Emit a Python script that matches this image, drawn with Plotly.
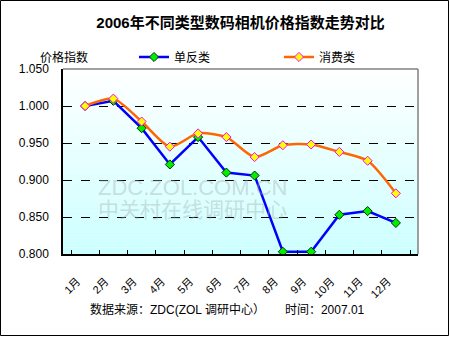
import plotly.graph_objects as go

# Monthly price index, 2006
months = ["1月", "2月", "3月", "4月", "5月", "6月", "7月", "8月", "9月", "10月", "11月", "12月"]
dslr_index = [1.000, 1.007, 0.970, 0.921, 0.958, 0.910, 0.906, 0.803, 0.803, 0.853, 0.858, 0.842]
compact_index = [1.000, 1.010, 0.979, 0.945, 0.963, 0.958, 0.931, 0.947, 0.948, 0.938, 0.926, 0.882]
y_ticks = [0.800, 0.850, 0.900, 0.950, 1.000, 1.050]

W, H = 450, 337
L, R, T, B = 63, 418, 69, 254          # plot-area edges in pixels
PW, PH = R - L, B - T

def px(x):
    return (x - L) / PW

def py(y):
    return (B - y) / PH

CJK = "Arial, 'Liberation Sans', 'Noto Sans CJK SC', sans-serif"

fig = go.Figure()
fig.add_trace(go.Scatter(
    x=months, y=dslr_index, name="单反类", mode="lines+markers",
    line=dict(color="#0000FF", width=2.5),
    marker=dict(symbol="diamond", size=7, color="#00EE00",
                line=dict(color="#003300", width=1)),
))
fig.add_trace(go.Scatter(
    x=months, y=compact_index, name="消费类", mode="lines+markers",
    line=dict(color="#FF6600", width=2.5, shape="spline", smoothing=0.7),
    marker=dict(symbol="diamond", size=7, color="#FFFF00",
                line=dict(color="#FF00FF", width=1)),
))

shapes = []
# vertical white -> light cyan gradient behind the plot area
n = 60
top_c = (255, 255, 255)
bot_c = (204, 255, 255)
for i in range(n):
    t = (i + 0.5) / n
    c = tuple(round(top_c[k] + (bot_c[k] - top_c[k]) * t) for k in range(3))
    shapes.append(dict(type="rect", xref="paper", yref="paper",
                       x0=0, x1=1, y0=1 - (i + 1) / n, y1=1 - i / n + 0.002,
                       fillcolor="rgb(%d,%d,%d)" % c, line=dict(width=0),
                       layer="below"))
# gray top and right frame of the plot area
shapes.append(dict(type="line", xref="paper", yref="paper", x0=0, x1=1, y0=1, y1=1,
                   line=dict(color="#808080", width=1.5), layer="above"))
shapes.append(dict(type="line", xref="paper", yref="paper", x0=1, x1=1, y0=0, y1=1,
                   line=dict(color="#808080", width=1.5), layer="above"))
# outer chart border
shapes.append(dict(type="rect", xref="paper", yref="paper",
                   x0=px(0.5), x1=px(448.5), y0=py(335.5), y1=py(0.5),
                   line=dict(color="black", width=1), fillcolor="rgba(0,0,0,0)",
                   layer="above"))

annotations = [
    dict(text="价格指数", x=px(38), y=py(48), xref="paper", yref="paper",
         showarrow=False, font=dict(size=12, color="black", family=CJK)),
    dict(text="数据来源：ZDC(ZOL 调研中心）      时间：2007.01",
         x=px(227), y=py(319), xref="paper", yref="paper", showarrow=False,
         font=dict(size=12, color="black", family=CJK)),
]
# faint watermark
for txt, cy, size in [("ZDC.ZOL.COM.CN", 202, 22), ("中关村在线调研中心", 223, 21)]:
    annotations.append(dict(text=txt, x=px(192), y=py(cy), xref="paper", yref="paper",
                            showarrow=False,
                            font=dict(size=size, color="rgba(160,170,170,0.40)", family=CJK)))

fig.update_layout(
    width=W, height=H,
    margin=dict(l=L, r=W - R, t=T, b=H - B, pad=0),
    paper_bgcolor="white", plot_bgcolor="rgba(0,0,0,0)",
    title=dict(text="<b>2006年不同类型数码相机价格指数走势对比</b>",
               x=0.5, xref="paper", xanchor="center",
               y=1 - 23 / H, yref="container", yanchor="middle",
               font=dict(size=15, color="black", family=CJK)),
    showlegend=True,
    legend=dict(orientation="h", x=px(134), xanchor="left", y=py(57), yanchor="middle",
                font=dict(size=12, color="black", family=CJK),
                bgcolor="rgba(0,0,0,0)", entrywidth=100, itemwidth=30,
                tracegroupgap=0),
    shapes=shapes,
    annotations=annotations,
    font=dict(family=CJK, color="black"),
)

fig.update_xaxes(
    type="category", tickangle=-45, showgrid=False,
    showline=True, linecolor="black", linewidth=1.5,
    ticks="inside", tickson="boundaries", ticklen=4, tickcolor="black",
    tickfont=dict(size=11, color="black", family=CJK),
    ticklabelstandoff=15, ticklabelshift=-8, zeroline=False,
)
fig.update_yaxes(
    range=[0.8, 1.05], tickvals=y_ticks, tickformat=".3f",
    showline=True, linecolor="black", linewidth=1.5,
    ticks="inside", ticklen=4, tickcolor="black",
    showgrid=True, gridcolor="black", griddash="dash", gridwidth=1,
    tickfont=dict(size=12, color="black", family=CJK),
    ticklabelstandoff=10, zeroline=False,
)

fig.write_html("out.html")
